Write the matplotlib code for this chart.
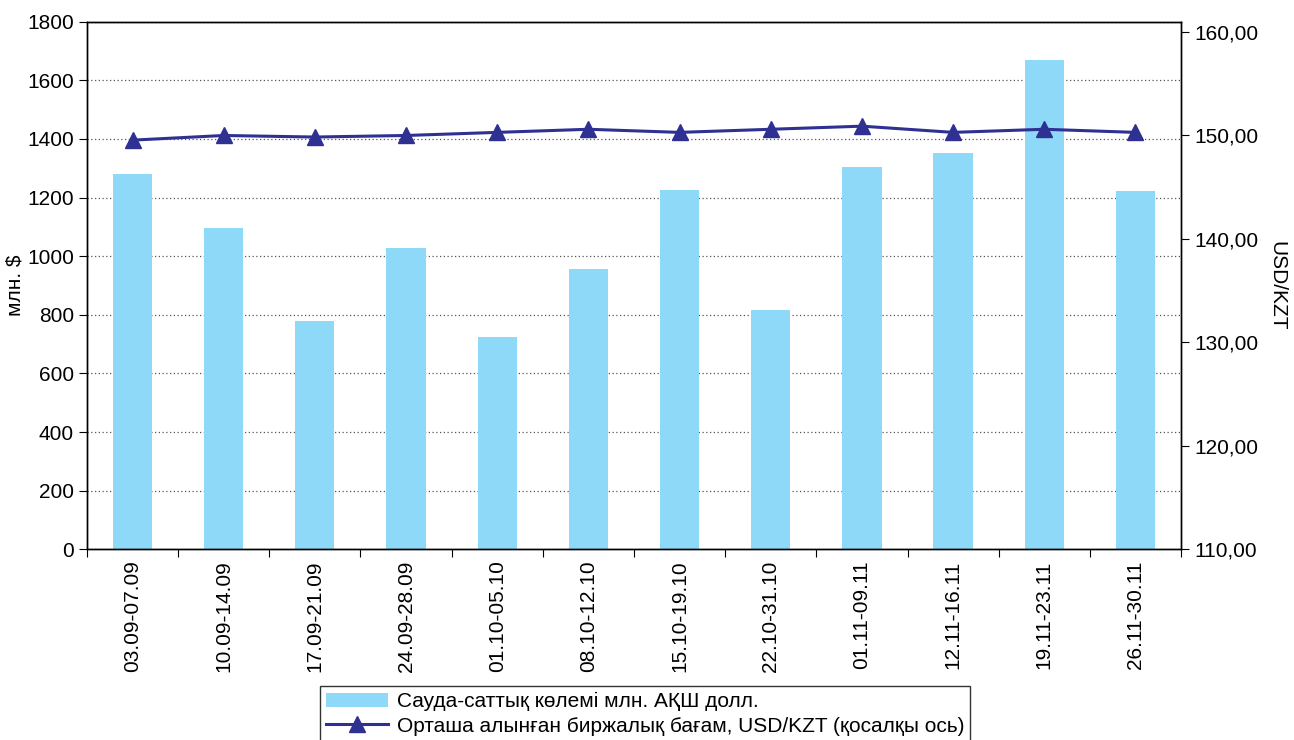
import matplotlib.pyplot as plt
from matplotlib.ticker import FuncFormatter, MultipleLocator

plt.rcParams['font.family'] = ['Liberation Sans', 'DejaVu Sans']

# Weekly periods
periods = ["03.09-07.09", "10.09-14.09", "17.09-21.09", "24.09-28.09",
           "01.10-05.10", "08.10-12.10", "15.10-19.10", "22.10-31.10",
           "01.11-09.11", "12.11-16.11", "19.11-23.11", "26.11-30.11"]

# Trading volume, mln USD
volume = [1280, 1095, 780, 1028, 725, 955, 1225, 817, 1305, 1352, 1670, 1222]

# Weighted average exchange rate, USD/KZT
rate = [149.55, 150.0, 149.85, 150.0, 150.3, 150.6, 150.3, 150.6,
        150.9, 150.3, 150.6, 150.3]

bar_label = "Сауда-саттық көлемі млн. АҚШ долл."
line_label = "Орташа алынған биржалық бағам, USD/KZT (қосалқы ось)"

bar_color = "#8ED8F8"
line_color = "#2E3192"
fs = 15

fig = plt.figure(figsize=(12.94, 7.40), dpi=100)
ax = fig.add_axes([0.0672, 0.2577, 0.8455, 0.713])
x = range(len(periods))

ax.bar(x, volume, width=0.43, color=bar_color, label=bar_label, zorder=2)
ax.set_xlim(-0.5, len(periods) - 0.5)
ax.set_ylim(0, 1800)
ax.yaxis.set_major_locator(MultipleLocator(200))
ax.set_ylabel("млн. $", fontsize=fs, labelpad=2)
ax.grid(axis='y', linestyle=(0, (1, 2)), color='#555555', linewidth=0.9, zorder=0)
ax.set_axisbelow(True)

# category labels centred, tick marks between categories
ax.set_xticks([i + 0.5 for i in range(-1, len(periods))])
ax.set_xticklabels([])
ax.set_xticks(list(x), minor=True)
ax.set_xticklabels(periods, minor=True, rotation=90, fontsize=fs)
ax.tick_params(axis='x', which='minor', length=0, pad=8)
ax.tick_params(axis='x', which='major', length=6, direction='out')
ax.tick_params(axis='y', labelsize=fs, length=6, direction='out')

ax2 = ax.twinx()
ax2.plot(x, rate, color=line_color, linewidth=2.2, marker='^', markersize=11,
         label=line_label, zorder=3)
ax2.set_ylim(110, 161)
ax2.set_yticks([110, 120, 130, 140, 150, 160])
ax2.yaxis.set_major_formatter(FuncFormatter(lambda v, p: f"{v:.2f}".replace('.', ',')))
ax2.tick_params(axis='y', labelsize=fs, length=6, direction='out')
ax2.set_ylabel("USD/KZT", fontsize=fs, rotation=270, labelpad=20)

for a in (ax, ax2):
    for s in a.spines.values():
        s.set_color('black')
        s.set_linewidth(1)

h1, l1 = ax.get_legend_handles_labels()
h2, l2 = ax2.get_legend_handles_labels()
leg = fig.legend(h1 + h2, l1 + l2, loc='upper left', bbox_to_anchor=(0.247, 0.073),
                 fontsize=fs, frameon=True, fancybox=False, edgecolor='black',
                 borderpad=0.3, labelspacing=0.25, handlelength=3.0, handletextpad=0.4,
                 borderaxespad=0)
leg.get_frame().set_linewidth(1)

fig.savefig("out.png", dpi=100)
